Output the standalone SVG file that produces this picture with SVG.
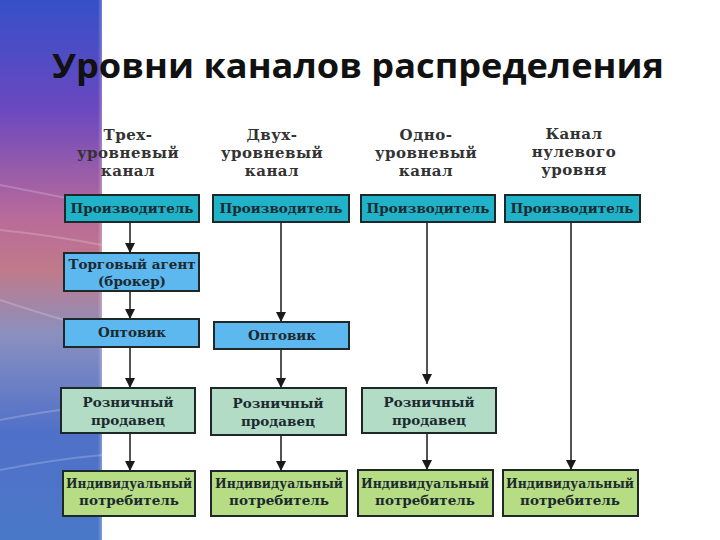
<svg xmlns="http://www.w3.org/2000/svg" width="720" height="540" viewBox="0 0 720 540">
<defs>
<linearGradient id="strip" x1="0" y1="0" x2="0" y2="1">
<stop offset="0" stop-color="#3550c8"/>
<stop offset="0.2" stop-color="#6a48c0"/>
<stop offset="0.4" stop-color="#b86a9a"/>
<stop offset="0.5" stop-color="#c07a8a"/>
<stop offset="0.62" stop-color="#8a90c0"/>
<stop offset="0.8" stop-color="#5070c8"/>
<stop offset="1" stop-color="#4a78c8"/>
</linearGradient>
<linearGradient id="edge" x1="0" y1="0" x2="1" y2="0">
<stop offset="0" stop-color="#ffffff" stop-opacity="0"/>
<stop offset="1" stop-color="#ffffff" stop-opacity="1"/>
</linearGradient>
<marker id="ah" viewBox="0 0 10 10" refX="10" refY="5" markerWidth="10" markerHeight="10" markerUnits="userSpaceOnUse" orient="auto">
<path d="M0,0 L10,5 L0,10 Z" fill="#1a1a1a"/>
</marker>
<style>
.hdr{font-family:"DejaVu Serif","Liberation Serif",serif;font-weight:bold;font-size:15px;letter-spacing:0.5px;fill:#333333;text-anchor:middle}
.lbl{font-family:"DejaVu Serif","Liberation Serif",serif;font-weight:bold;font-size:13.5px;fill:#1c2a30;text-anchor:middle}
.box{stroke:#1e2828;stroke-width:2}
.prod{fill:#1fb2c9}
.agent{fill:#5cb8ee}
.retail{fill:#b2dcc6}
.cons{fill:#b6dc84}
.con{stroke:#1a1a1a;stroke-width:1.5;fill:none;marker-end:url(#ah)}
</style>
</defs>
<rect x="0" y="0" width="720" height="540" fill="#ffffff"/>
<g id="background">
<rect x="0" y="0" width="102" height="540" fill="url(#strip)"/>
<g stroke="#ffffff" stroke-opacity="0.2" stroke-width="2" fill="none">
<path d="M0,185 Q50,195 102,205"/>
<path d="M0,230 Q50,235 102,245"/>
<path d="M0,300 Q60,320 102,330"/>
<path d="M0,420 Q50,410 102,405"/>
<path d="M0,470 Q50,460 102,455"/>
</g>
<rect x="98" y="0" width="14" height="540" fill="url(#edge)"/>
</g>
<text x="358" y="78" font-family="'Open Sans','Liberation Sans',sans-serif" font-weight="bold" font-size="34" fill="#111111" text-anchor="middle" textLength="612" lengthAdjust="spacingAndGlyphs">Уровни каналов распределения</text>
<g id="headers">
<text class="hdr" x="128" y="140">Трех-</text>
<text class="hdr" x="128" y="158">уровневый</text>
<text class="hdr" x="128" y="176">канал</text>
<text class="hdr" x="272" y="140">Двух-</text>
<text class="hdr" x="272" y="158">уровневый</text>
<text class="hdr" x="272" y="176">канал</text>
<text class="hdr" x="426" y="140">Одно-</text>
<text class="hdr" x="426" y="158">уровневый</text>
<text class="hdr" x="426" y="176">канал</text>
<text class="hdr" x="574" y="139">Канал</text>
<text class="hdr" x="574" y="157">нулевого</text>
<text class="hdr" x="574" y="175">уровня</text>
</g>
<g id="connectors">
<line class="con" x1="130" y1="223" x2="130" y2="253"/>
<line class="con" x1="130" y1="292" x2="130" y2="319"/>
<line class="con" x1="130" y1="348" x2="130" y2="388"/>
<line class="con" x1="130" y1="434" x2="130" y2="471"/>
<line class="con" x1="281" y1="223" x2="281" y2="322"/>
<line class="con" x1="281" y1="350" x2="281" y2="388"/>
<line class="con" x1="281" y1="435" x2="281" y2="471"/>
<line class="con" x1="427" y1="223" x2="427" y2="384"/>
<line class="con" x1="427" y1="434" x2="427" y2="470"/>
<line class="con" x1="571" y1="223" x2="571" y2="470" stroke-width="2.5"/>
</g>
<g id="prod1"><rect class="box prod" x="65" y="195" width="134" height="27"/><text class="lbl" x="132" y="213">Производитель</text></g>
<g id="prod2"><rect class="box prod" x="213" y="195" width="136" height="27"/><text class="lbl" x="281" y="213">Производитель</text></g>
<g id="prod3"><rect class="box prod" x="361" y="195" width="134" height="27"/><text class="lbl" x="428" y="213">Производитель</text></g>
<g id="prod4"><rect class="box prod" x="505" y="195" width="135" height="27"/><text class="lbl" x="572" y="213">Производитель</text></g>
<g id="agent1"><rect class="box agent" x="64" y="253" width="135" height="38"/><text class="lbl" x="132" y="269">Торговый агент</text><text class="lbl" x="132" y="286">(брокер)</text></g>
<g id="whole1"><rect class="box agent" x="64" y="319" width="135" height="28"/><text class="lbl" x="132" y="337">Оптовик</text></g>
<g id="whole2"><rect class="box agent" x="214" y="322" width="135" height="27"/><text class="lbl" x="282" y="340">Оптовик</text></g>
<g id="retail1"><rect class="box retail" x="61" y="388" width="134" height="45"/><text class="lbl" x="128" y="407">Розничный</text><text class="lbl" x="128" y="425">продавец</text></g>
<g id="retail2"><rect class="box retail" x="211" y="388" width="135" height="47"/><text class="lbl" x="278" y="408">Розничный</text><text class="lbl" x="278" y="426">продавец</text></g>
<g id="retail3"><rect class="box retail" x="362" y="388" width="134" height="45"/><text class="lbl" x="429" y="407">Розничный</text><text class="lbl" x="429" y="425">продавец</text></g>
<g id="cons1"><rect class="box cons" x="63" y="471" width="132" height="45"/><text class="lbl" x="129" y="488" textLength="126" lengthAdjust="spacingAndGlyphs">Индивидуальный</text><text class="lbl" x="129" y="505">потребитель</text></g>
<g id="cons2"><rect class="box cons" x="211" y="471" width="136" height="45"/><text class="lbl" x="279" y="488" textLength="128" lengthAdjust="spacingAndGlyphs">Индивидуальный</text><text class="lbl" x="279" y="505">потребитель</text></g>
<g id="cons3"><rect class="box cons" x="358" y="470" width="135" height="46"/><text class="lbl" x="425" y="488" textLength="128" lengthAdjust="spacingAndGlyphs">Индивидуальный</text><text class="lbl" x="425" y="505">потребитель</text></g>
<g id="cons4"><rect class="box cons" x="503" y="470" width="135" height="46"/><text class="lbl" x="570" y="488" textLength="128" lengthAdjust="spacingAndGlyphs">Индивидуальный</text><text class="lbl" x="570" y="505">потребитель</text></g>
</svg>
